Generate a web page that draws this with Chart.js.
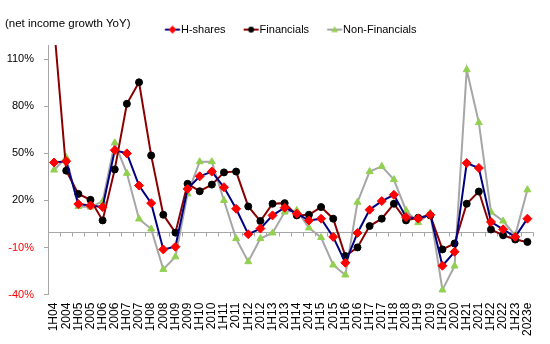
<!DOCTYPE html>
<html>
<head>
<meta charset="utf-8">
<script src="https://cdn.jsdelivr.net/npm/chart.js@4"></script>
<style>
  body { margin: 0; background: #fff; }
  #wrap { width: 550px; height: 344px; }
</style>
</head>
<body>
<div id="wrap"><canvas id="hsharesChart"></canvas></div>
<script>
const categories = ['1H04', '2004', '1H05', '2005', '1H06', '2006', '1H07', '2007', '1H08', '2008',
    '1H09', '2009', '1H10', '2010', '1H11', '2011', '1H12', '2012', '1H13', '2013',
    '1H14', '2014', '1H15', '2015', '1H16', '2016', '1H17', '2017', '1H18', '2018',
    '1H19', '2019', '1H20', '2020', '1H21', '2021', '1H22', '2022', '1H23', '2023e'];

const hShares = [44.2, 45, 17.7, 16.8, 15.8, 52, 50, 29.5, 18.3, -11.2,
    -9.5, 27.4, 35.4, 38.4, 28.4, 14.7, -1.5, 2.1, 10.5, 15.4,
    11.6, 7.3, 8.4, -3.2, -19.7, -0.7, 14.1, 19.6, 23.6, 9.4,
    8.5, 10.9, -21.6, -12.7, 43.8, 40.7, 6.3, 1.6, -3.2, 8.4];

const financials = [131, 39, 24.2, 20.4, 7.3, 39.8, 81.6, 95.3, 48.7, 10.9,
    -0.5, 30.6, 25.9, 30.1, 37.9, 38.4, 16.2, 6.9, 17.9, 18.3,
    10.5, 10.9, 15.8, 8.4, -15.4, -9.9, 3.7, 8.4, 17.9, 7.3,
    9.0, 10.5, -11.2, -7.4, 17.9, 25.7, 1.5, -2.2, -4.9, -6.4];

const nonFinancials = [39.4, 47.4, 16.2, 15.8, 19.4, 56.7, 37.3, 8.2, 1.8, -23.9,
    -15.9, 24.2, 44.7, 44.7, 20, -4.3, -19, -4.3, -0.7, 12.6,
    13.7, 2.5, -3.6, -21.1, -27.5, 18.9, 38.4, 41.7, 33.3, 13.7,
    5.9, 12, -37, -21.8, 103.3, 69.6, 12.6, 6.9, -2.2, 26.8];

const yTicks = [-40, -10, 20, 50, 80, 110];

const FONT = '"Liberation Sans", Arial, sans-serif';

// small line+marker samples for the legend
function makeSample(lineColor, marker, markerColor) {
    const c = document.createElement('canvas');
    c.width = 40;
    c.height = 12;
    const g = c.getContext('2d');
    g.strokeStyle = lineColor;
    g.lineWidth = 2;
    g.beginPath();
    g.moveTo(14.75, 6);
    g.lineTo(29.75, 6);
    g.stroke();
    g.fillStyle = markerColor;
    g.beginPath();
    const m = 22.25;
    if (marker === 'diamond') {
        g.moveTo(m, 2); g.lineTo(m + 4, 6); g.lineTo(m, 10); g.lineTo(m - 4, 6);
    } else if (marker === 'circle') {
        g.arc(m, 6, 3, 0, Math.PI * 2);
    } else {
        g.moveTo(m, 2.5); g.lineTo(m + 3.5, 8.5); g.lineTo(m - 3.5, 8.5);
    }
    g.closePath();
    g.fill();
    return c;
}

const samples = [
    makeSample('#000080', 'diamond', '#FF0000'),
    makeSample('#8B0000', 'circle', '#000000'),
    makeSample('#A6A6A6', 'triangle', '#92D050')
];

const zeroLine = {
    id: 'zeroLine',
    beforeDatasetsDraw(chart) {
        const {ctx, scales: {x, y}} = chart;
        const y0 = Math.round(y.getPixelForValue(0)) + 0.5;
        ctx.save();
        ctx.strokeStyle = '#A6A6A6';
        ctx.lineWidth = 1;
        ctx.beginPath();
        ctx.moveTo(x.left, y0);
        ctx.lineTo(x.right, y0);
        for (let i = 0; i <= categories.length; i++) {
            const px = Math.round(x.getPixelForValue(i - 0.5)) + 0.5;
            ctx.moveTo(px, y0);
            ctx.lineTo(px, y0 + 4);
        }
        ctx.stroke();
        ctx.restore();
    }
};

const ctx = document.getElementById('hsharesChart').getContext('2d');
new Chart(ctx, {
    type: 'line',
    data: {
        labels: categories,
        datasets: [
            {
                label: 'H-shares',
                data: hShares,
                borderColor: '#000080',
                borderWidth: 2,
                pointStyle: 'rectRot',
                pointRadius: 4.5,
                pointBackgroundColor: '#FF0000',
                pointBorderColor: '#FF0000',
                pointBorderWidth: 1,
                tension: 0
            },
            {
                label: 'Financials',
                data: financials,
                borderColor: '#8B0000',
                borderWidth: 2,
                pointStyle: 'circle',
                pointRadius: 3.5,
                pointBackgroundColor: '#000000',
                pointBorderColor: '#000000',
                pointBorderWidth: 1,
                tension: 0
            },
            {
                label: 'Non-Financials',
                data: nonFinancials,
                borderColor: '#A6A6A6',
                borderWidth: 2,
                pointStyle: 'triangle',
                pointRadius: 4,
                pointBackgroundColor: '#92D050',
                pointBorderColor: '#92D050',
                pointBorderWidth: 1,
                tension: 0
            }
        ]
    },
    options: {
        responsive: true,
        maintainAspectRatio: false,
        animation: false,
        layout: {
            padding: {left: 5, right: 16, top: 0, bottom: 0}
        },
        plugins: {
            title: {
                display: true,
                text: '(net income growth YoY)',
                align: 'start',
                color: '#000',
                font: {family: FONT, size: 11.5, weight: 'normal'},
                padding: {top: 17, bottom: -24.7}
            },
            legend: {
                display: true,
                position: 'top',
                fullSize: false,
                labels: {
                    color: '#000',
                    font: {family: FONT, size: 11},
                    usePointStyle: true,
                    pointStyleWidth: 10.5,
                    padding: 18,
                    generateLabels(chart) {
                        const items = Chart.defaults.plugins.legend.labels.generateLabels(chart);
                        items.forEach((it, i) => { it.pointStyle = samples[i]; });
                        return items;
                    }
                }
            },
            tooltip: {enabled: false}
        },
        scales: {
            x: {
                offset: true,
                grid: {display: false, drawTicks: false},
                border: {display: false},
                ticks: {
                    autoSkip: false,
                    minRotation: 90,
                    maxRotation: 90,
                    padding: 8,
                    color: '#000',
                    font: {family: FONT, size: 12}
                }
            },
            y: {
                min: -40,
                max: 119,
                afterBuildTicks(scale) {
                    scale.ticks = yTicks.map(v => ({value: v}));
                },
                afterFit(scale) {
                    scale.width = 43;
                },
                grid: {
                    display: true,
                    drawOnChartArea: false,
                    drawTicks: true,
                    tickLength: 4,
                    color: '#A6A6A6'
                },
                border: {display: true, color: '#A6A6A6'},
                ticks: {
                    padding: 10,
                    font: {family: FONT, size: 11},
                    color: c => (c.tick && c.tick.value < 0 ? '#FF0000' : '#000000'),
                    callback: v => v + '%'
                }
            }
        }
    },
    plugins: [zeroLine]
});
</script>
</body>
</html>
